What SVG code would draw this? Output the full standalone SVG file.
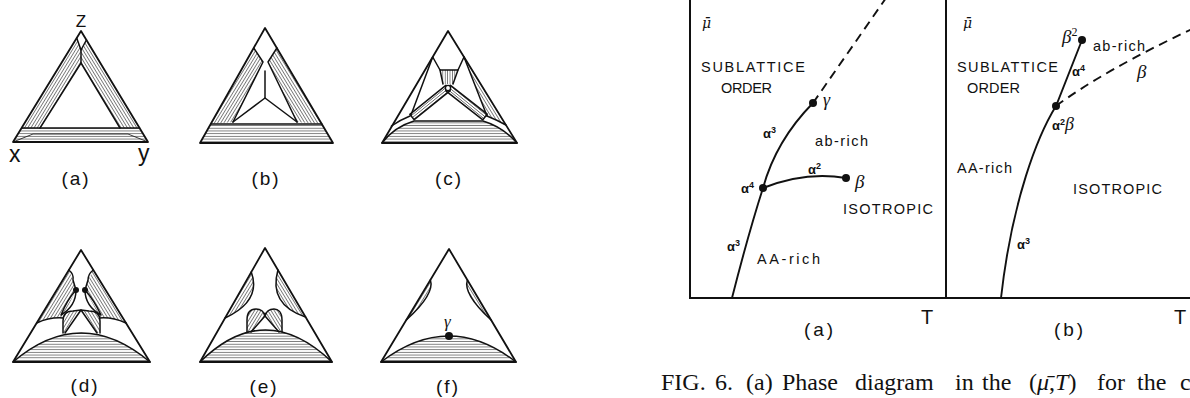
<svg xmlns="http://www.w3.org/2000/svg" width="1190" height="398" viewBox="0 0 1190 398">
<style>
.ed{fill:none;stroke:#111;stroke-width:1.8;stroke-linejoin:round}
.ln{fill:none;stroke:#111;stroke-width:1.5;stroke-linejoin:round;stroke-linecap:round}
.tn{fill:none;stroke:#222;stroke-width:0.9}
.ax{fill:none;stroke:#111;stroke-width:2}
.cv{fill:none;stroke:#111;stroke-width:1.9;stroke-linecap:round}
.ds{fill:none;stroke:#111;stroke-width:1.9;stroke-dasharray:9 6}
.dot{fill:#111}
.lab{font-family:"Liberation Sans",Arial,sans-serif;font-size:14.5px;fill:#111}
.al{font-family:"Liberation Sans",Arial,sans-serif;font-size:13px;font-weight:bold;fill:#111}
.tl{font-family:"Liberation Sans",Arial,sans-serif;font-size:19px;fill:#111}
.gk{font-family:"Liberation Serif","Times New Roman",serif;font-style:italic;fill:#111}
.mu{font-family:"DejaVu Serif",serif;font-style:italic;font-size:14px;fill:#111}
.cap{font-family:"Liberation Serif","Times New Roman",serif;font-size:24px;fill:#111}
</style>
<defs>
<pattern id="hH" width="8" height="2.7" patternUnits="userSpaceOnUse"><line x1="0" y1="1.35" x2="8" y2="1.35" stroke="#444" stroke-width="0.7"/></pattern>
<pattern id="hV" width="2.4" height="8" patternUnits="userSpaceOnUse"><line x1="1.2" y1="0" x2="1.2" y2="8" stroke="#444" stroke-width="0.7"/></pattern>
<pattern id="hL" width="2.7" height="8" patternUnits="userSpaceOnUse" patternTransform="rotate(31.5)"><line x1="1.35" y1="0" x2="1.35" y2="8" stroke="#444" stroke-width="0.7"/></pattern>
<pattern id="hR" width="2.7" height="8" patternUnits="userSpaceOnUse" patternTransform="rotate(-31.5)"><line x1="1.35" y1="0" x2="1.35" y2="8" stroke="#444" stroke-width="0.7"/></pattern>
<pattern id="hA1" width="2.2" height="8" patternUnits="userSpaceOnUse" patternTransform="rotate(51)"><line x1="1.1" y1="0" x2="1.1" y2="8" stroke="#444" stroke-width="0.7"/></pattern>
<pattern id="hA2" width="2.2" height="8" patternUnits="userSpaceOnUse" patternTransform="rotate(-51)"><line x1="1.1" y1="0" x2="1.1" y2="8" stroke="#444" stroke-width="0.7"/></pattern>
</defs>
<rect width="1190" height="398" fill="#fff"/>

<!-- (a) -->
<g id="tri-a">
<polygon points="76.7,38 81,50 81,63 40,128 21.6,128" fill="url(#hL)"/>
<polygon points="86.4,40 81,50 81,63 120,128 139.5,128" fill="url(#hR)"/>
<polygon points="13,142 21.6,128 139.5,128 148,142" fill="url(#hH)"/>
<polyline class="ln" points="76.7,38 81,50 86.4,40"/>
<line class="ln" x1="81" y1="50" x2="81" y2="63"/>
<polyline class="ln" points="40,128 81,63 120,128"/>
<line class="ln" x1="21.6" y1="128" x2="139.5" y2="128"/>
<polyline class="tn" points="13,142 33,134 128,134 148,142"/>
<polygon class="ed" points="13,142 148,142 81,31"/>
<text class="tl" x="81" y="27" text-anchor="middle" style="font-size:17px">Z</text>
<text class="tl" x="9" y="162" style="font-size:23px">x</text>
<text class="tl" x="138" y="161" style="font-size:23px">y</text>
<text class="tl" x="76" y="185" text-anchor="middle" letter-spacing="2">(a)</text>
</g>

<!-- (b) -->
<g id="tri-b">
<polygon points="253.7,48 263,62 233,122 210.7,124" fill="url(#hL)"/>
<polygon points="276.9,48 268,62 297,122 321.8,124" fill="url(#hR)"/>
<polygon points="200,143 210.7,124 321.8,124 333,143" fill="url(#hH)"/>
<polyline class="ln" points="253.7,48 263,62 233,122"/>
<polyline class="ln" points="276.9,48 268,62 297,122"/>
<polyline class="ln" points="233,122 265,98 297,122"/>
<line class="ln" x1="265" y1="71" x2="265" y2="98"/>
<line class="ln" x1="210.7" y1="124" x2="321.8" y2="124"/>
<polygon class="ed" points="200,143 333,143 265,28"/>
<text class="tl" x="266" y="185" text-anchor="middle" letter-spacing="2">(b)</text>
</g>

<!-- (c) -->
<g id="tri-c">
<polygon points="440,70 458,70 453,84 443,84" fill="url(#hV)"/>
<polygon points="445.8,85.3 409.8,114.3 414.2,119.7 450.2,90.7" fill="url(#hA1)"/>
<polygon points="450.2,85.2 487.2,114.2 482.8,119.8 445.8,90.8" fill="url(#hA2)"/>
<polygon points="464,57 505.9,125 487,116" fill="url(#hR)"/>
<path d="M382,143 Q394,127 414,121 L483,121 Q503,127 517,143 Z" fill="url(#hH)"/>
<polyline class="ln" points="432.7,57 440,70 458,70 464,57"/>
<polyline class="ln" points="440,70 443,84"/>
<polyline class="ln" points="458,70 453,84"/>
<polygon class="ln" points="445.8,85.3 409.8,114.3 414.2,119.7 450.2,90.7"/>
<polygon class="ln" points="450.2,85.2 487.2,114.2 482.8,119.8 445.8,90.8"/>
<line class="ln" x1="432.7" y1="57" x2="411" y2="115"/>
<line class="ln" x1="464" y1="57" x2="487" y2="116"/>
<path class="ln" d="M410,116 Q400,120 391.4,126"/>
<path class="ln" d="M487,116 Q497,120 505.9,125"/>
<path class="ln" d="M382,143 Q394,127 414,121 L483,121 Q503,127 517,143"/>
<circle cx="448" cy="88" r="2.6" fill="#fff" stroke="#111" stroke-width="1.4"/>
<polygon class="ed" points="382,143 517,143 448,31"/>
<text class="tl" x="449" y="185" text-anchor="middle" letter-spacing="2">(c)</text>
</g>

<!-- (d) -->
<g id="tri-d">
<path d="M68.8,270 L36.7,323 Q50,317 63,318 Q70,302 76,290 L73,280 Z" fill="url(#hL)"/>
<path d="M93.3,270 L126,323 Q112,317 100,318 Q92,302 85,290 L88,280 Z" fill="url(#hR)"/>
<path d="M63,333 L63,321 Q63,311 73,311 L81,310 L65,333 Z" fill="url(#hL)"/>
<path d="M100,333 L100,321 Q100,311 89,311 L81,310 L97,333 Z" fill="url(#hR)"/>
<path d="M13,362 Q81,304 150,362 Z" fill="url(#hH)"/>
<path class="ln" d="M68.8,270 Q74,274 73,280 L76,290"/>
<path class="ln" d="M93.3,270 Q88,274 88,280 L85,290"/>
<path class="ln" d="M76,290 Q67,300 61,315 M76,290 Q76,306 61,315"/>
<path class="ln" d="M85,290 Q94,300 101,315 M85,290 Q85,306 101,315"/>
<path class="ln" d="M36.7,323 Q50,317 63,318"/>
<path class="ln" d="M126,323 Q112,317 100,318"/>
<path class="ln" d="M63,333 L63,321 Q63,311 73,311 L81,310 L89,311 Q100,311 100,321 L100,333"/>
<polyline class="ln" points="65,333 81,310 97,333"/>
<path class="ln" d="M13,362 Q81,304 150,362"/>
<circle class="dot" cx="76" cy="290" r="3"/>
<circle class="dot" cx="85" cy="290" r="3"/>
<polygon class="ed" points="13,362 150,362 81,250"/>
<text class="tl" x="85" y="392" text-anchor="middle" letter-spacing="2">(d)</text>
</g>

<!-- (e) -->
<g id="tri-e">
<path d="M251.3,272 Q261.8,301 225.1,318 Z" fill="url(#hL)"/>
<path d="M277.9,270 Q268.3,304.5 305.5,317 Z" fill="url(#hR)"/>
<path d="M247,332 L247,320 C247,312 251,309 256,309 C261,309 264,312 265,316 L251,332 Z" fill="url(#hL)"/>
<path d="M282,332 L282,320 C282,312 278,309 274,309 C269,309 266,312 265,316 L279,332 Z" fill="url(#hR)"/>
<path d="M200,362 Q265,298 332,362 Z" fill="url(#hH)"/>
<path class="ln" d="M251.3,272 Q261.8,301 225.1,318"/>
<path class="ln" d="M277.9,270 Q268.3,304.5 305.5,317"/>
<path class="ln" d="M247,332 L247,320 C247,312 251,309 256,309 C261,309 264,312 265,316 C266,312 269,309 274,309 C278,309 282,312 282,320 L282,332"/>
<polyline class="ln" points="251,332 265,316 279,332"/>
<path class="ln" d="M200,362 Q265,298 332,362"/>
<polygon class="ed" points="200,362 332,362 265,248"/>
<text class="tl" x="264" y="393" text-anchor="middle" letter-spacing="2">(e)</text>
</g>

<!-- (f) -->
<g id="tri-f">
<path d="M430.4,280 Q435,294 406.3,320 Z" fill="url(#hL)"/>
<path d="M467.4,280 Q462.7,294 491.1,320 Z" fill="url(#hR)"/>
<path d="M381,362 Q449,310 516,362 Z" fill="url(#hH)"/>
<path class="ln" d="M430.4,280 Q435,294 406.3,320"/>
<path class="ln" d="M467.4,280 Q462.7,294 491.1,320"/>
<path class="ln" d="M381,362 Q449,310 516,362"/>
<circle class="dot" cx="449" cy="336" r="4"/>
<polygon class="ed" points="381,362 516,362 449,249"/>
<text class="gk" x="444" y="327" style="font-size:17px">γ</text>
<text class="tl" x="448" y="393" text-anchor="middle" letter-spacing="2">(f)</text>
</g>

<!-- phase diagram axes -->
<g id="axes">
<line class="ax" x1="690" y1="0" x2="690" y2="298"/>
<line class="ax" x1="946" y1="0" x2="946" y2="298"/>
<line class="ax" x1="689" y1="298" x2="1190" y2="298"/>
</g>

<g id="connectors">
<line class="ds" x1="813" y1="103" x2="886" y2="-2"/>
<path class="cv" d="M813,103 Q776,140.5 763,188 Q748,235 732,298"/>
<path class="cv" d="M763,188 Q805.5,171 846,178"/>
<path class="cv" d="M1082,40 L1056,106 C1038,135 1012,200 1001,298"/>
<path class="ds" d="M1056,106 Q1105,70 1192,29"/>
</g>

<g id="points">
<circle class="dot" cx="813" cy="103" r="4"/>
<circle class="dot" cx="763" cy="188" r="4"/>
<circle class="dot" cx="846" cy="178" r="4"/>
<circle class="dot" cx="1082" cy="40" r="4"/>
<circle class="dot" cx="1056" cy="106" r="4"/>
</g>

<g id="phase-a-labels">
<text class="mu" x="702" y="28">μ̄</text>
<text class="lab" x="701" y="72" textLength="104" lengthAdjust="spacing">SUBLATTICE</text>
<text class="lab" x="721" y="93" textLength="51" lengthAdjust="spacing">ORDER</text>
<text class="gk" x="823" y="106" style="font-size:18px">γ</text>
<text class="al" x="763" y="138">α<tspan dy="-5" font-size="9">3</tspan></text>
<text class="lab" x="815" y="146" textLength="53" lengthAdjust="spacing">ab-rich</text>
<text class="al" x="808" y="174">α<tspan dy="-5" font-size="9">2</tspan></text>
<text class="gk" x="855" y="188" style="font-size:19px">β</text>
<text class="al" x="741" y="193">α<tspan dy="-5" font-size="9">4</tspan></text>
<text class="lab" x="843" y="214" textLength="90" lengthAdjust="spacing">ISOTROPIC</text>
<text class="al" x="727" y="251">α<tspan dy="-5" font-size="9">3</tspan></text>
<text class="lab" x="757" y="264" textLength="63" lengthAdjust="spacing">AA-rich</text>
<text class="tl" x="921" y="324" style="font-size:20px">T</text>
<text class="tl" x="820" y="336" text-anchor="middle" letter-spacing="3">(a)</text>
</g>

<g id="phase-b-labels">
<text class="mu" x="963" y="28">μ̄</text>
<text class="gk" x="1062" y="43" style="font-size:19px">β<tspan dy="-7" font-size="12" font-style="normal">2</tspan></text>
<text class="lab" x="1093" y="51" textLength="52" lengthAdjust="spacing">ab-rich</text>
<text class="lab" x="957" y="72" textLength="101" lengthAdjust="spacing">SUBLATTICE</text>
<text class="al" x="1072" y="76">α<tspan dy="-5" font-size="9">4</tspan></text>
<text class="gk" x="1137" y="78" style="font-size:19px">β</text>
<text class="lab" x="967" y="93" textLength="53" lengthAdjust="spacing">ORDER</text>
<text class="al" x="1052" y="130">α<tspan dy="-5" font-size="9">2</tspan><tspan dy="5" class="gk" font-size="18" font-weight="normal">β</tspan></text>
<text class="lab" x="957" y="173" textLength="55" lengthAdjust="spacing">AA-rich</text>
<text class="lab" x="1073" y="194" textLength="89" lengthAdjust="spacing">ISOTROPIC</text>
<text class="al" x="1017" y="249">α<tspan dy="-5" font-size="9">3</tspan></text>
<text class="tl" x="1174" y="324" style="font-size:20px">T</text>
<text class="tl" x="1070" y="336" text-anchor="middle" letter-spacing="3">(b)</text>
</g>

<g id="caption">
<text class="cap" y="390"><tspan x="661">FIG.</tspan><tspan x="715">6.</tspan><tspan x="746">(a)</tspan><tspan x="782">Phase</tspan><tspan x="855">diagram</tspan><tspan x="955">in</tspan><tspan x="982">the</tspan><tspan x="1029">(<tspan font-style="italic">μ̄</tspan>,<tspan font-style="italic">T</tspan>)</tspan><tspan x="1097">for</tspan><tspan x="1137">the</tspan><tspan x="1180">c</tspan></text>
</g>
</svg>
